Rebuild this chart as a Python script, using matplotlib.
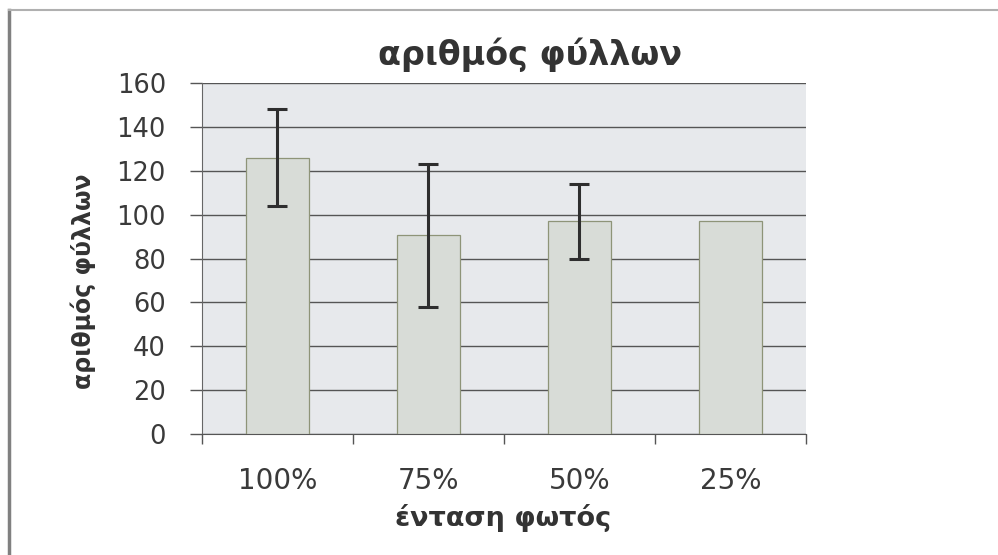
import matplotlib
matplotlib.use("Agg")
import matplotlib.pyplot as plt
from matplotlib.lines import Line2D
import numpy as np

# δεδομένα
categories = ["100%", "75%", "50%", "25%"]
leaves = [126, 90.5, 97, 97]
errors = [22, 32.5, 17, 0]

title = "αριθμός φύλλων"
xlabel = "ένταση φωτός"
ylabel = "αριθμός φύλλων"

fig = plt.figure(figsize=(9.98, 5.55), dpi=100)
ax = fig.add_axes([0.2024, 0.218, 0.6052, 0.6324])
ax.set_facecolor("#e7e9ec")

x = np.arange(len(categories))
err_mask = [e if e > 0 else np.nan for e in errors]
ax.bar(x, leaves, width=0.42, color="#d8dcd7", edgecolor="#8e9478", linewidth=0.9, zorder=3)
ax.errorbar(x, leaves, yerr=err_mask, fmt="none", ecolor="#2e2e2e", elinewidth=2.2,
            capsize=7, capthick=2.2, zorder=4)

ax.set_xlim(-0.5, len(categories) - 0.5)
ax.set_ylim(0, 160)
ax.set_yticks(np.arange(0, 161, 20))
ax.yaxis.grid(True, color="#555555", linewidth=1.0, zorder=1)
ax.set_axisbelow(True)

# x ticks: labels w środku, kreski na granicach kategorii
ax.set_xticks(x)
ax.set_xticklabels(categories, fontsize=20, color="#3a3a3a")
ax.set_xticks(np.arange(-0.5, len(categories)), minor=True)
ax.tick_params(axis="x", which="major", length=0, pad=24)
ax.tick_params(axis="x", which="minor", length=7.5, width=1, color="#555555", direction="out")
ax.tick_params(axis="y", length=9, width=1, color="#555555", pad=17, labelsize=18.5,
               labelcolor="#3a3a3a")

for s in ["top", "right"]:
    ax.spines[s].set_visible(False)
ax.spines["left"].set_color("#666666")
ax.spines["bottom"].set_color("#555555")

fig.text(0.531, 0.901, title, ha="center", va="center", fontsize=24,
         family="DejaVu Sans", fontweight="bold", color="#333333")
fig.text(0.504, 0.067, xlabel, ha="center", va="center", fontsize=19.5,
         family="DejaVu Sans", fontweight="bold", color="#333333")
fig.text(0.083, 0.494, ylabel, ha="center", va="center", rotation=90, fontsize=17,
         family="DejaVu Sans", fontweight="bold", color="#333333")

# ramka obrazka
fig.add_artist(Line2D([0.009, 0.009], [0.0, 0.982], transform=fig.transFigure,
                      color="#808080", linewidth=2.5))
fig.add_artist(Line2D([0.009, 1.0], [0.982, 0.982], transform=fig.transFigure,
                      color="#b0b0b0", linewidth=1.5))

fig.savefig("out.png", dpi=100)
